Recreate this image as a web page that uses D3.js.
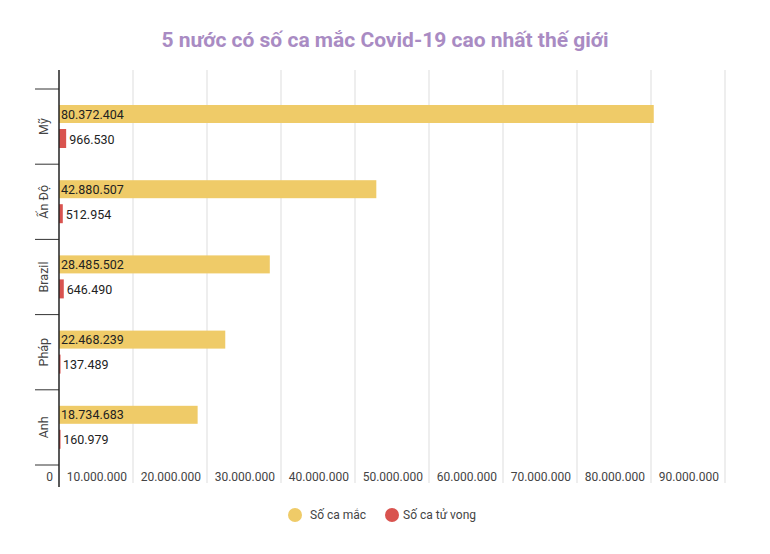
<!DOCTYPE html><html><head><meta charset="utf-8"><script src="https://d3js.org/d3.v7.min.js"></script>
<style>body{margin:0;background:#fff}text{font-family:Roboto,sans-serif}</style></head><body><svg id="c" width="770" height="554"></svg>
<script>
const countries=["Mỹ","Ấn Độ","Brazil","Pháp","Anh"];
const cases=[80372404,42880507,28485502,22468239,18734683];
const deaths=[966530,512954,646490,137489,160979];
const ticks=[0,10e6,20e6,30e6,40e6,50e6,60e6,70e6,80e6,90e6];
const seriesNames=["Số ca mắc","Số ca tử vong"];
const colors=["#EFCB68","#D9534F"];
const fmt=v=>d3.format(",")(v).replace(/,/g,".");
const svg=d3.select("#c");
svg.append("text").attr("x",385).attr("y",47).attr("text-anchor","middle").attr("font-size",21).attr("font-weight","bold").attr("fill","#A98BC3").text("5 nước có số ca mắc Covid-19 cao nhất thế giới");
const x=d3.scaleLinear().domain([0,90e6]).range([59,725]);
const y=d3.scaleBand().domain(countries).range([89,465]);
const g=svg.append("g");
ticks.slice(1).forEach(t=>g.append("line").attr("x1",x(t)).attr("x2",x(t)).attr("y1",70).attr("y2",483).attr("stroke","#ddd"));
ticks.forEach(t=>g.append("text").attr("x",x(t)-6).attr("y",481).attr("text-anchor","end").attr("font-size",12).attr("fill","#444").text(t===0?"0":fmt(t)));
const seps=countries.map(c=>y(c)).concat([y.range()[1]]);
seps.forEach(s=>g.append("line").attr("x1",35).attr("x2",59).attr("y1",s).attr("y2",s).attr("stroke","#333"));
countries.forEach((c,i)=>{
 const b=y(c);
 g.append("rect").attr("x",x(0)).attr("y",b+16).attr("width",x(cases[i])-x(0)).attr("height",18).attr("fill",colors[0]);
 g.append("rect").attr("x",x(0)).attr("y",b+40).attr("width",Math.max(1.5,x(deaths[i])-x(0))).attr("height",19).attr("fill",colors[1]);
 g.append("text").attr("x",x(0)+2).attr("y",b+29.5).attr("font-size",12.5).attr("fill","#222").text(fmt(cases[i]));
 g.append("text").attr("x",x(deaths[i])+3).attr("y",b+54.5).attr("font-size",12.5).attr("fill","#222").text(fmt(deaths[i]));
 g.append("text").attr("transform",`translate(48,${b+y.bandwidth()/2}) rotate(-90)`).attr("text-anchor","middle").attr("font-size",12.5).attr("fill","#444").text(c);
});
g.append("line").attr("x1",59).attr("x2",59).attr("y1",70).attr("y2",487).attr("stroke","#222").attr("stroke-width",1.5);
const lg=svg.append("g");
[[295,310],[392,403]].forEach((p,i)=>{
 lg.append("circle").attr("cx",p[0]).attr("cy",515).attr("r",7).attr("fill",colors[i]);
 lg.append("text").attr("x",p[1]).attr("y",519).attr("font-size",12).attr("fill","#444").text(seriesNames[i]);
});
</script></body></html>
